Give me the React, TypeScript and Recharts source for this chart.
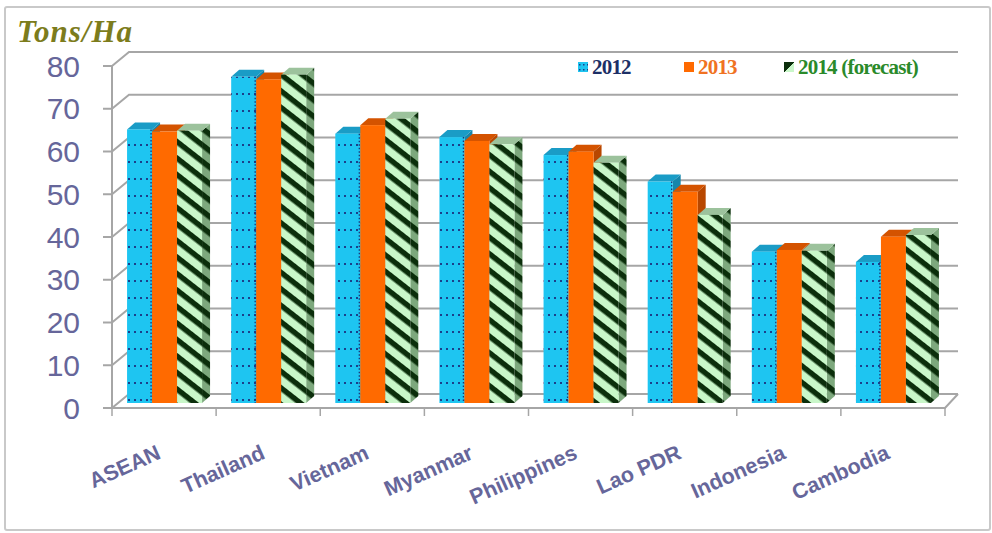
import { Bar, BarChart, CartesianGrid, Legend, XAxis, YAxis } from 'recharts';

const categories = ['ASEAN', 'Thailand', 'Vietnam', 'Myanmar', 'Philippines', 'Lao PDR', 'Indonesia', 'Cambodia'];
const yield2012 = [64, 76.3, 63, 62.2, 58, 51.8, 35.4, 33];
const yield2013 = [63.5, 75.7, 65, 61.3, 58.8, 49.4, 35.8, 38.9];
const yield2014 = [63.7, 76.8, 66.5, 60.5, 56.2, 44, 35.6, 39.3];
const yTicks = [0, 10, 20, 30, 40, 50, 60, 70, 80];
const seriesNames = ['2012', '2013', '2014 (forecast)'];

const data = categories.map((name, i) => ({
  name,
  y2012: yield2012[i],
  y2013: yield2013[i],
  y2014: yield2014[i],
}));

const AXIS_TEXT = '#66669a';
const GRID = '#a6a6a6';
// depth of the fake 3d box
const DX = 17;
const DY = -14;

const faces: Record<string, { front: string; top: string; side: string }> = {
  y2012: { front: 'url(#dots)', top: '#1a9cc6', side: '#1686ab' },
  y2013: { front: '#ff6a00', top: '#d45300', side: '#b84700' },
  y2014: { front: 'url(#stripes)', top: '#9cc29c', side: 'url(#stripesDark)' },
};

function bar3d(key: string) {
  return (props: any) => {
    const { x, y, width, height } = props;
    if (width == null || height == null) return <g />;
    const f = faces[key];
    const x0 = x + 1;
    const y0 = y - 5;
    const w = width;
    const h = height;
    const d = 8;
    const e = -7;
    return (
      <g>
        <polygon
          points={`${x0 + w},${y0} ${x0 + w + d},${y0 + e} ${x0 + w + d},${y0 + h + e} ${x0 + w},${y0 + h}`}
          fill={f.side}
        />
        <polygon
          points={`${x0},${y0} ${x0 + d},${y0 + e} ${x0 + w + d},${y0 + e} ${x0 + w},${y0}`}
          fill={f.top}
        />
        <rect x={x0} y={y0} width={w} height={h} fill={f.front} />
        {key === 'y2012' && (
          <line x1={x0 + w - 1} y1={y0} x2={x0 + w - 1} y2={y0 + h} stroke="#1b3577" strokeWidth={1.3} strokeDasharray="1.5 2" />
        )}
      </g>
    );
  };
}

function gridLine(props: any) {
  const { x1, y1, x2 } = props;
  const isBottom = props.y != null && props.height != null
    ? Math.abs(y1 - (props.y + props.height)) < 1
    : props.index === 0;
  return (
    <g key={`g-${y1}`}>
      <polyline
        points={`${x1},${y1} ${x1 + DX},${y1 + DY} ${x2 + 13},${y1 + DY}`}
        fill="none"
        stroke={GRID}
        strokeWidth={2}
      />
      {isBottom && (
        <polyline
          points={`${x1},${y1} ${x2},${y1} ${x2 + 13},${y1 + DY}`}
          fill="none"
          stroke={GRID}
          strokeWidth={2}
        />
      )}
    </g>
  );
}

function YTick(props: any) {
  const { x, y, payload } = props;
  return (
    <text x={x} y={y} dy={10.5} textAnchor="end" fontSize={30} fill={AXIS_TEXT} fontFamily="Liberation Sans, Arial, sans-serif">
      {payload.value}
    </text>
  );
}

function XTick(props: any) {
  const { x, y, payload, index, visibleTicksCount } = props;
  const half = payload.offset ?? 52;
  const tx = x - 2;
  const ty = y + 50;
  return (
    <g>
      <line x1={x - half} y1={y} x2={x - half} y2={y + 8} stroke={GRID} strokeWidth={1.5} />
      {index === visibleTicksCount - 1 && (
        <line x1={x + half} y1={y} x2={x + half} y2={y + 8} stroke={GRID} strokeWidth={1.5} />
      )}
      <text
        x={tx}
        y={ty}
        textAnchor="end"
        fontSize={21.5}
        fontWeight="bold"
        fill={AXIS_TEXT}
        fontFamily="Liberation Sans, Arial, sans-serif"
        transform={`rotate(-24 ${tx} ${ty})`}
      >
        {payload.value}
      </text>
    </g>
  );
}

const legendColors = ['#1c2f66', '#f07222', '#2a8a2a'];
const legendFills = ['url(#dotsSmall)', '#ff6a00', 'url(#legend14)'];
const legendWidths = [106, 100, 160];

function LegendBox() {
  return (
    <div style={{ display: 'flex', alignItems: 'center' }}>
      {seriesNames.map((s, i) => (
        <div key={s} style={{ width: legendWidths[i], display: 'flex', alignItems: 'center' }}>
          <svg width={10} height={10} style={{ marginRight: 4 }}>
            <rect x={0} y={0} width={10} height={10} fill={legendFills[i]} />
          </svg>
          <span
            style={{
              color: legendColors[i],
              fontFamily: 'Liberation Serif, Times New Roman, serif',
              fontWeight: 'bold',
              fontSize: 21,
              letterSpacing: -0.8,
              lineHeight: '20px',
            }}
          >
            {s}
          </span>
        </div>
      ))}
    </div>
  );
}

export default function App() {
  return (
    <div style={{ position: 'absolute', left: 0, top: 0, width: 992, height: 533, background: '#fff' }}>
      <div
        style={{
          position: 'absolute',
          left: 4,
          top: 6,
          width: 983,
          height: 521,
          border: '2px solid #c9c9c9',
          borderRadius: 3,
        }}
      />
      <div
        style={{
          position: 'absolute',
          left: 17,
          top: 14,
          fontFamily: 'Liberation Serif, Times New Roman, serif',
          fontStyle: 'italic',
          fontWeight: 'bold',
          fontSize: 31,
          color: '#7c7c1c',
          letterSpacing: 1,
        }}
      >
        Tons/Ha
      </div>
      <div style={{ position: 'absolute', left: 0, top: 0 }}>
        <BarChart
          width={992}
          height={533}
          data={data}
          margin={{ top: 66, right: 47, left: 52, bottom: 45 }}
          barCategoryGap="13.5%"
          barGap={0}
        >
          <defs>
            <pattern id="dots" patternUnits="userSpaceOnUse" width={6} height={17}>
              <rect width={6} height={17} fill="#1ec5f1" />
              <rect x={2} y={8} width={2} height={2} fill="#1b3f8a" />
            </pattern>
            <pattern id="dotsSmall" patternUnits="userSpaceOnUse" width={4} height={5}>
              <rect width={4} height={5} fill="#1ec5f1" />
              <rect x={1} y={2} width={1.5} height={1.5} fill="#1b3f8a" />
            </pattern>
            <pattern id="stripes" patternUnits="userSpaceOnUse" width={13} height={13} patternTransform="rotate(38)">
              <rect width={13} height={13} fill="#c9f7c9" />
              <rect width={13} height={5.5} fill="#0b2e0b" />
            </pattern>
            <pattern id="stripesDark" patternUnits="userSpaceOnUse" width={13} height={13} patternTransform="rotate(38)">
              <rect width={13} height={13} fill="#7da87d" />
              <rect width={13} height={5.5} fill="#0b2e0b" />
            </pattern>
            <linearGradient id="legend14" x1="0" y1="0" x2="1" y2="1">
              <stop offset="0.5" stopColor="#0b2e0b" />
              <stop offset="0.5" stopColor="#c9f7c9" />
            </linearGradient>
          </defs>
          <CartesianGrid vertical={false} horizontal={gridLine} />
          <XAxis
            dataKey="name"
            height={80}
            axisLine={{ stroke: GRID, strokeWidth: 2 }}
            tickLine={false}
            tickSize={0}
            tickMargin={0}
            tick={<XTick />}
            interval={0}
          />
          <YAxis
            domain={[0, 80]}
            ticks={yTicks}
            width={60}
            axisLine={{ stroke: GRID, strokeWidth: 2 }}
            tickLine={{ stroke: GRID, strokeWidth: 2 }}
            tickSize={9}
            tickMargin={23}
            tick={<YTick />}
            interval={0}
          />
          <Legend
            layout="horizontal"
            verticalAlign="middle"
            content={<LegendBox />}
            wrapperStyle={{ top: 57, left: 578, width: 380 }}
          />
          <Bar dataKey="y2012" name={seriesNames[0]} fill="#1ec5f1" shape={bar3d('y2012')} isAnimationActive={false} />
          <Bar dataKey="y2013" name={seriesNames[1]} fill="#ff6a00" shape={bar3d('y2013')} isAnimationActive={false} />
          <Bar dataKey="y2014" name={seriesNames[2]} fill="#c9f7c9" shape={bar3d('y2014')} isAnimationActive={false} />
        </BarChart>
      </div>
    </div>
  );
}
